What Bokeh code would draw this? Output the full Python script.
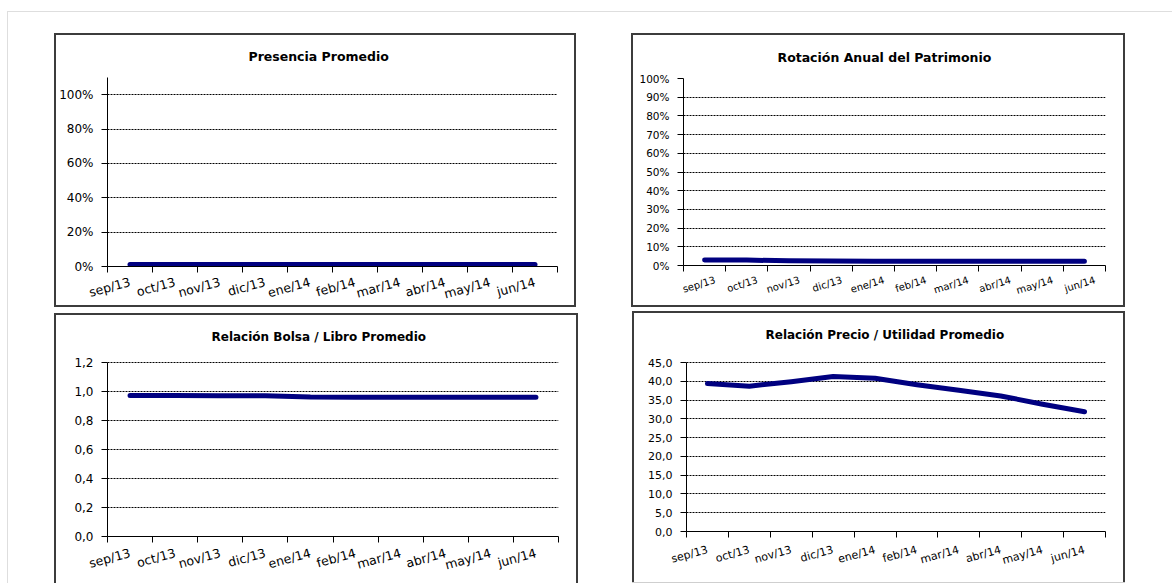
from bokeh.plotting import figure
from bokeh.layouts import row, column
from bokeh.models import FixedTicker, Title, NumeralTickFormatter, CustomJSTickFormatter
from bokeh.embed import file_html
from bokeh.resources import INLINE

# Monthly categories
meses = ["sep/13", "oct/13", "nov/13", "dic/13", "ene/14",
         "feb/14", "mar/14", "abr/14", "may/14", "jun/14"]

# Series values
presencia = [0.012, 0.012, 0.012, 0.012, 0.012, 0.012, 0.012, 0.012, 0.012, 0.012]
rotacion = [0.030, 0.029, 0.025, 0.024, 0.023, 0.023, 0.023, 0.023, 0.023, 0.023]
bolsa_libro = [0.972, 0.972, 0.971, 0.970, 0.962, 0.961, 0.961, 0.961, 0.961, 0.961]
precio_utilidad = [39.4, 38.7, 39.9, 41.3, 40.8, 39.1, 37.6, 36.1, 33.9, 31.9]

# Y tick values
ticks_presencia = [0, 0.2, 0.4, 0.6, 0.8, 1.0]
ticks_rotacion = [0, 0.1, 0.2, 0.3, 0.4, 0.5, 0.6, 0.7, 0.8, 0.9, 1.0]
ticks_bolsa = [0, 0.2, 0.4, 0.6, 0.8, 1.0, 1.2]
ticks_precio = [0, 5, 10, 15, 20, 25, 30, 35, 40, 45]

FONT = "DejaVu Sans"
LINE = "#000080"
E = "#3c3c3c"

pct_fmt = NumeralTickFormatter(format="0%")
comma_fmt = CustomJSTickFormatter(code="return tick.toFixed(1).replace('.', ',');")

# panel frames: inset box-shadows painted behind the transparent canvas border
SIDES = f"inset 2px 0 0 0 {E}, inset -2px 0 0 0 {E}, inset 0 2px 0 0 {E}"
BOX1 = f"inset 0 -4px 0 0 #ffffff, {SIDES}, inset 0 -6px 0 0 {E}"
BOX2 = f"inset 0 0 0 2px {E}"
BOX3 = SIDES
BOX4 = f"inset 0 -1px 0 0 #cfcfcf, {SIDES}"


def panel(title, values, axis_top, y_ticks, y_fmt, size, borders, axis_gap,
          ytick_px, xtick_px, x_standoff, label_shift, title_px, title_offset,
          orient, shadow, margin):
    """axis_gap: pixels between the frame top and the top of the value axis."""
    w, h = size
    bl, br, bt, bb = borders
    frame_h = h - bt - bb
    y_end = axis_top * frame_h / (frame_h - axis_gap)
    p = figure(width=w, height=h, x_range=(0, len(meses)), y_range=(0, y_end),
               output_backend="svg", toolbar_location=None,
               min_border_left=bl, min_border_right=br,
               min_border_top=bt, min_border_bottom=bb,
               background_fill_color="white", border_fill_alpha=0)
    p.frame_align = False
    p.outline_line_color = None
    p.styles = {"box-shadow": shadow}
    p.margin = margin

    centers = [i + 0.5 for i in range(len(meses))]
    p.line(centers, values, line_color=LINE, line_width=5,
           line_cap="round", line_join="round")

    # x axis: labels near category centres, tick marks between categories
    label_pos = [c + label_shift for c in centers]
    xa = p.xaxis[0]
    xa.ticker = FixedTicker(ticks=label_pos, minor_ticks=list(range(len(meses) + 1)))
    xa.major_label_overrides = {c: m for c, m in zip(label_pos, meses)}
    xa.major_tick_out = 0
    xa.major_tick_in = 0
    xa.minor_tick_out = 6
    xa.minor_tick_in = 0
    xa.minor_tick_line_color = "black"
    xa.axis_line_color = "black"
    xa.major_label_orientation = orient
    xa.major_label_standoff = x_standoff
    xa.major_label_text_font = FONT
    xa.major_label_text_font_size = f"{xtick_px}px"
    xa.major_label_text_color = "#000000"

    ya = p.yaxis[0]
    ya.ticker = FixedTicker(ticks=y_ticks, minor_ticks=[])
    ya.formatter = y_fmt
    ya.bounds = (0, axis_top)
    ya.major_tick_out = 6
    ya.major_tick_in = 0
    ya.axis_line_color = "black"
    ya.major_tick_line_color = "black"
    ya.major_label_standoff = 8
    ya.major_label_text_font = FONT
    ya.major_label_text_font_size = f"{ytick_px}px"
    ya.major_label_text_color = "#000000"

    p.xgrid.visible = False
    p.ygrid.ticker = FixedTicker(ticks=y_ticks, minor_ticks=[])
    p.ygrid.grid_line_color = "black"
    p.ygrid.grid_line_dash = "2 1"
    p.ygrid.grid_line_width = 1

    p.add_layout(Title(text=title, align="left", offset=title_offset,
                       vertical_align="middle", standoff=26,
                       text_font=FONT, text_font_style="bold",
                       text_font_size=f"{title_px}px", text_color="#000000"), "above")
    return p


p1 = panel("Presencia Promedio", presencia, 1.1, ticks_presencia, pct_fmt,
           (522, 278), (53, 19, 44, 45), 0, 12, 12.5, 9, 0.0, 12.5, 141, 0.27,
           BOX1, (21, 0, 0, 46))
p2 = panel("Rotación Anual del Patrimonio", rotacion, 1.0, ticks_rotacion, pct_fmt,
           (494, 274), (52, 20, 45, 42), 0, 10.5, 10, 8, 0.25, 12.5, 94, 0.3,
           BOX2, (21, 0, 0, 55))
p3 = panel("Relación  Bolsa  / Libro  Promedio", bolsa_libro, 1.2, ticks_bolsa, comma_fmt,
           (524, 270), (53, 20, 44, 47), 5, 12, 12.5, 10, 0.0, 12, 104, 0.27,
           BOX3, (2, 0, 0, 46))
p4 = panel("Relación  Precio  / Utilidad  Promedio", precio_utilidad, 45, ticks_precio, comma_fmt,
           (493, 272), (54, 20, 44, 52), 7, 11, 11, 12, 0.0, 12, 79, 0.27,
           BOX4, (0, 0, 0, 54))

root = column(row(p1, p2), row(p3, p4))
root.width = 1165
root.margin = (11, 0, 0, 7)
root.styles = {"border-top": "1px solid #dedede", "border-left": "1px solid #dedede"}

with open("out.html", "w") as f:
    f.write(file_html(root, INLINE))
